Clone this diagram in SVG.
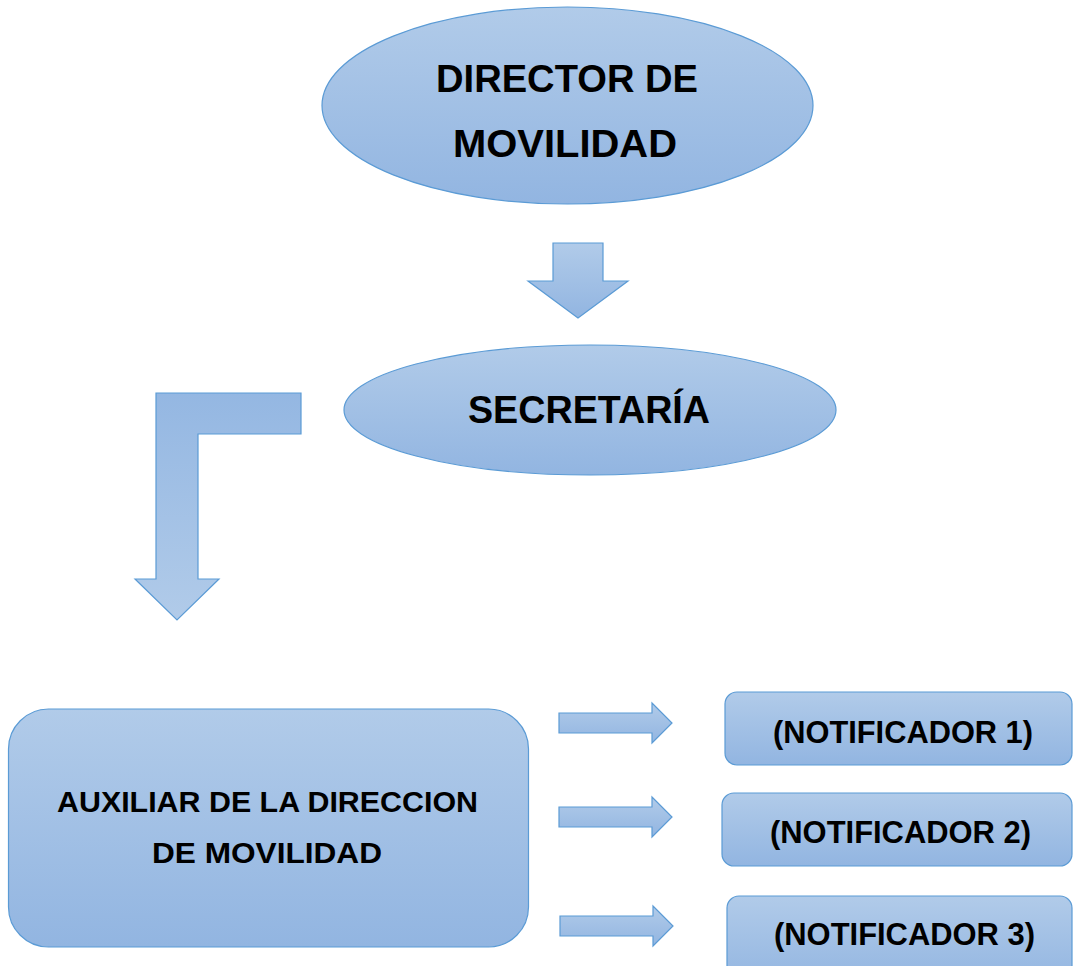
<svg xmlns="http://www.w3.org/2000/svg" width="1073" height="966" viewBox="0 0 1073 966">
  <style>
    .shape { stroke: #5b9bd5; stroke-width: 1.2; }
    .lbl { font-family: "Liberation Sans", Arial, sans-serif; font-weight: bold; fill: #000; text-anchor: middle; }
  </style>
  <defs>
    <linearGradient id="g" x1="0" y1="0" x2="0" y2="1">
      <stop offset="0" stop-color="#b1cbe9"/>
      <stop offset="1" stop-color="#92b5e1"/>
    </linearGradient>
    <linearGradient id="gr" x1="0" y1="0" x2="0" y2="1">
      <stop offset="0" stop-color="#94b7e2"/>
      <stop offset="1" stop-color="#b1cbe9"/>
    </linearGradient>
  </defs>
  <rect width="1073" height="966" fill="#fff"/>

  <g id="connectors">
    <path class="shape" fill="url(#g)" d="M553,243 H603 V281 H628 L578,318 L528,281 H553 Z"/>
    <path class="shape" fill="url(#gr)" d="M156,393 H301 V434 H198 V579 H219 L177,620 L135,579 H156 Z"/>
    <path class="shape" fill="url(#g)" d="M559,713 H652 V703 L672,723 L652,743 V733 H559 Z"/>
    <path class="shape" fill="url(#g)" d="M559,807 H652 V797 L672,817 L652,837 V827 H559 Z"/>
    <path class="shape" fill="url(#g)" d="M560,916 H653 V906 L673,926 L653,946 V936 H560 Z"/>
  </g>

  <g id="director">
    <ellipse class="shape" fill="url(#g)" cx="567.5" cy="105.5" rx="245.5" ry="98.5"/>
    <text class="lbl" x="567" y="92" font-size="38" textLength="262" lengthAdjust="spacingAndGlyphs">DIRECTOR DE</text>
    <text class="lbl" x="565" y="157" font-size="38" textLength="224" lengthAdjust="spacingAndGlyphs">MOVILIDAD</text>
  </g>

  <g id="secretaria">
    <ellipse class="shape" fill="url(#g)" cx="590" cy="410" rx="246" ry="65"/>
    <text class="lbl" x="589" y="423" font-size="39" textLength="242" lengthAdjust="spacingAndGlyphs">SECRETARÍA</text>
  </g>

  <g id="auxiliar">
    <rect class="shape" fill="url(#g)" x="8.5" y="709" width="520" height="238" rx="40" ry="40"/>
    <text class="lbl" x="267.5" y="812" font-size="29" textLength="421" lengthAdjust="spacingAndGlyphs">AUXILIAR DE LA DIRECCION</text>
    <text class="lbl" x="267" y="863" font-size="29" textLength="230" lengthAdjust="spacingAndGlyphs">DE MOVILIDAD</text>
  </g>

  <g id="notificador1">
    <rect class="shape" fill="url(#g)" x="725" y="692" width="347" height="73" rx="12" ry="12"/>
    <text class="lbl" x="903" y="743" font-size="32" textLength="260" lengthAdjust="spacingAndGlyphs">(NOTIFICADOR 1)</text>
  </g>

  <g id="notificador2">
    <rect class="shape" fill="url(#g)" x="722" y="793" width="350" height="73" rx="12" ry="12"/>
    <text class="lbl" x="900.5" y="843" font-size="32" textLength="261" lengthAdjust="spacingAndGlyphs">(NOTIFICADOR 2)</text>
  </g>

  <g id="notificador3">
    <rect class="shape" fill="url(#g)" x="727" y="896" width="345" height="90" rx="12" ry="12"/>
    <text class="lbl" x="904.5" y="945" font-size="32" textLength="261" lengthAdjust="spacingAndGlyphs">(NOTIFICADOR 3)</text>
  </g>
</svg>
